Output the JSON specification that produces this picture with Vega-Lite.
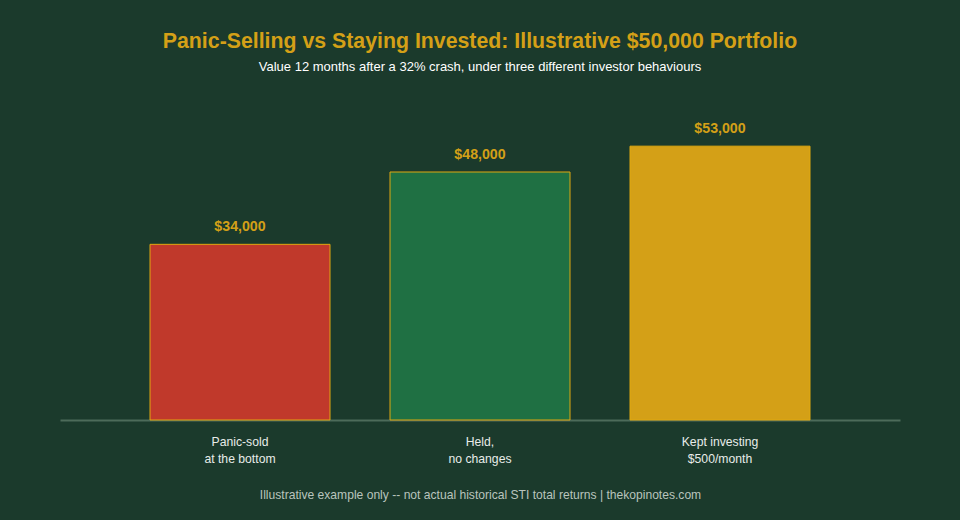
{
  "$schema": "https://vega.github.io/schema/vega-lite/v6.json",
  "width": 840,
  "height": 310,
  "autosize": "none",
  "padding": {"left": 60, "top": 110, "right": 60, "bottom": 100},
  "background": "#1b3a2c",
  "config": {
    "view": {"stroke": null},
    "font": "Liberation Sans"
  },
  "title": {
    "text": "Panic-Selling vs Staying Invested: Illustrative $50,000 Portfolio",
    "subtitle": "Value 12 months after a 32% crash, under three different investor behaviours",
    "anchor": "middle",
    "color": "#d4a017",
    "fontSize": 21.3,
    "fontWeight": "bold",
    "subtitleColor": "#ffffff",
    "subtitleFontSize": 13,
    "subtitlePadding": 9,
    "offset": 36
  },
  "data": {
    "values": [
      {"behaviour": "Panic-sold\nat the bottom", "value": 34000, "label": "$34,000"},
      {"behaviour": "Held,\nno changes", "value": 48000, "label": "$48,000"},
      {"behaviour": "Kept investing\n$500/month", "value": 53000, "label": "$53,000"}
    ]
  },
  "encoding": {
    "x": {
      "field": "behaviour",
      "type": "nominal",
      "sort": null,
      "scale": {"paddingInner": 0.25, "paddingOuter": 0.375},
      "axis": {
        "title": "Illustrative example only -- not actual historical STI total returns | thekopinotes.com",
        "titleColor": "#b9c4bd",
        "titleFontSize": 12.1,
        "titleFontWeight": "normal",
        "titlePadding": 24,
        "labelAngle": 0,
        "labelColor": "#e8ece9",
        "labelFontSize": 12.2,
        "labelLineHeight": 17.5,
        "labelPadding": 15,
        "labelExpr": "split(datum.label, '\\n')",
        "ticks": false,
        "domainColor": "#4d6b5a",
        "domainWidth": 2
      }
    },
    "y": {
      "field": "value",
      "type": "quantitative",
      "scale": {"domain": [0, 60000]},
      "axis": null
    }
  },
  "layer": [
    {
      "mark": {"type": "bar", "stroke": "#e0a810", "strokeWidth": 1},
      "encoding": {
        "color": {
          "field": "behaviour",
          "type": "nominal",
          "sort": null,
          "scale": {"range": ["#c0392b", "#1f7043", "#d4a017"]},
          "legend": null
        }
      }
    },
    {
      "mark": {"type": "text", "baseline": "bottom", "dy": -10, "fontSize": 14.2, "fontWeight": "bold", "color": "#d4a017"},
      "encoding": {"text": {"field": "label"}}
    }
  ]
}
